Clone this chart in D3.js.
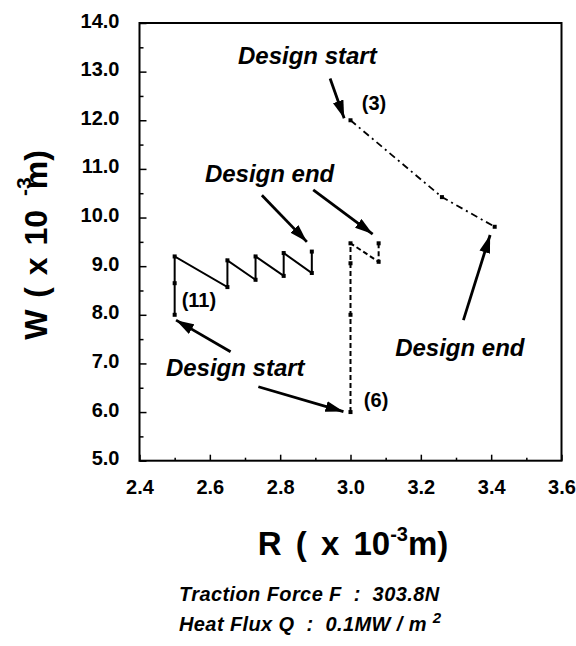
<!DOCTYPE html>
<html>
<head>
<meta charset="utf-8">
<script src="https://cdn.jsdelivr.net/npm/d3@7"></script>
<style>
  body { margin: 0; background: #fff; }
  svg text { font-family: "Liberation Sans", Arial, Helvetica, sans-serif; white-space: pre; }
</style>
</head>
<body>
<script>
let width = 576, height = 646;

// design paths: R (x1e-3 m) and W (x1e-3 m)
const r11 = [2.5, 2.5, 2.5, 2.65, 2.65, 2.73, 2.73, 2.81, 2.81, 2.89, 2.89];
const w11 = [8.0, 8.65, 9.2, 8.57, 9.12, 8.72, 9.2, 8.8, 9.27, 8.86, 9.3];
const r6 = [3.0, 3.0, 3.0, 3.0, 3.08, 3.08];
const w6 = [6.0, 8.0, 9.06, 9.47, 9.09, 9.47];
const r3 = [3.0, 3.26, 3.41];
const w3 = [12.0, 10.42, 9.81];

const xMajor = [2.4, 2.6, 2.8, 3.0, 3.2, 3.4, 3.6];
const xMinor = [2.5, 2.7, 2.9, 3.1, 3.3, 3.5];
const yMajor = [5, 6, 7, 8, 9, 10, 11, 12, 13, 14];
const yMinor = [5.5, 6.5, 7.5, 8.5, 9.5, 10.5, 11.5, 12.5, 13.5];

// annotation labels (data units, text start / baseline)
const notes = [
  { text: "Design start", r: 2.68, w: 13.16, size: 24 },
  { text: "Design end", r: 2.586, w: 10.74, size: 24 },
  { text: "Design start", r: 2.475, w: 6.74, size: 24 },
  { text: "Design end", r: 3.127, w: 7.15, size: 24 },
  { text: "(3)", r: 3.032, w: 12.21, size: 20 },
  { text: "(6)", r: 3.038, w: 6.10, size: 20 },
  { text: "(11)", r: 2.52, w: 8.16, size: 20 }
];
// arrows: from (r0,w0) to tip (r1,w1)
const arrows = [
  [2.942, 12.86, 2.982, 12.04],
  [2.748, 10.46, 2.876, 9.50],
  [2.894, 10.57, 3.063, 9.66],
  [2.659, 7.24, 2.504, 7.89],
  [2.738, 6.52, 2.980, 6.01],
  [3.321, 7.89, 3.397, 9.64]
];

const margin = { left: 139.5, right: 14.5, top: 23, bottom: 185.3 };

const svg = d3.select("body").append("svg")
    .attr("width", width)
    .attr("height", height);

const x = d3.scaleLinear().domain([2.4, 3.6]).range([margin.left, width - margin.right]);
const y = d3.scaleLinear().domain([5, 14]).range([height - margin.bottom, margin.top]);

// frame
svg.append("rect")
    .attr("x", x(2.4)).attr("y", y(14))
    .attr("width", x(3.6) - x(2.4)).attr("height", y(5) - y(14))
    .attr("fill", "none").attr("stroke", "#000").attr("stroke-width", 2);

// axes, ticks pointing inward
svg.append("g")
    .attr("transform", `translate(0,${y(5)})`)
    .call(d3.axisBottom(x).tickValues(xMajor).tickSize(-6).tickPadding(19).tickFormat(d3.format(".1f")));
svg.append("g")
    .attr("transform", `translate(0,${y(5)})`)
    .call(d3.axisBottom(x).tickValues(xMinor).tickSize(-3).tickFormat(""));
const yAxis = svg.append("g")
    .attr("transform", `translate(${x(2.4)},0)`)
    .call(d3.axisLeft(y).tickValues(yMajor).tickSize(-7).tickPadding(20).tickFormat(d3.format(".1f")));
svg.append("g")
    .attr("transform", `translate(${x(2.4)},0)`)
    .call(d3.axisLeft(y).tickValues(yMinor).tickSize(-4).tickFormat(""));

svg.selectAll(".domain").remove();
svg.selectAll(".tick line").attr("stroke", "#000").attr("stroke-width", 1.5);
svg.selectAll(".tick text")
    .attr("fill", "#000")
    .style("font-family", "'Liberation Sans', Arial, sans-serif")
    .style("font-size", "20px")
    .style("font-weight", "bold");
yAxis.selectAll(".tick text").attr("dy", "0.2em");

// series lines
const line = d3.line().x(d => x(d[0])).y(d => y(d[1]));
const series = [
  { pts: d3.zip(r11, w11), dash: null, sw: 2 },
  { pts: d3.zip(r6, w6), dash: "5,3", sw: 2 },
  { pts: d3.zip(r3, w3), dash: "7,4,2,4", sw: 1.8 }
];
series.forEach(s => {
  svg.append("path")
      .attr("d", line(s.pts))
      .attr("fill", "none")
      .attr("stroke", "#000")
      .attr("stroke-width", s.sw)
      .attr("stroke-dasharray", s.dash);
  svg.selectAll(null)
      .data(s.pts)
      .enter().append("rect")
      .attr("x", d => x(d[0]) - 2)
      .attr("y", d => y(d[1]) - 2)
      .attr("width", 4)
      .attr("height", 4)
      .attr("fill", "#000");
});

// arrows
svg.append("defs").append("marker")
    .attr("id", "head")
    .attr("markerUnits", "userSpaceOnUse")
    .attr("viewBox", "0 0 18 11")
    .attr("refX", 18).attr("refY", 5.5)
    .attr("markerWidth", 18).attr("markerHeight", 11)
    .attr("orient", "auto")
  .append("path")
    .attr("d", "M0,0L18,5.5L0,11Z")
    .attr("fill", "#000");

svg.selectAll(null)
    .data(arrows)
    .enter().append("line")
    .attr("x1", d => x(d[0])).attr("y1", d => y(d[1]))
    .attr("x2", d => x(d[2])).attr("y2", d => y(d[3]))
    .attr("stroke", "#000")
    .attr("stroke-width", 2.8)
    .attr("marker-end", "url(#head)");

svg.selectAll(null)
    .data(notes)
    .enter().append("text")
    .attr("x", d => x(d.r))
    .attr("y", d => y(d.w))
    .style("font-size", d => d.size + "px")
    .style("font-weight", "bold")
    .style("font-style", d => d.text.startsWith("(") ? "normal" : "italic")
    .text(d => d.text);

// axis titles
const xt = svg.append("text")
    .attr("x", 353).attr("y", 555)
    .attr("text-anchor", "middle")
    .style("font-size", "33px").style("font-weight", "bold")
    .style("word-spacing", "5px");
xt.append("tspan").text("R ( x 10");
xt.append("tspan").attr("dy", -14).style("font-size", "20px").text("-3");
xt.append("tspan").attr("dy", 14).text("m)");

const yt = svg.append("text")
    .attr("transform", "translate(47,245) rotate(-90)")
    .attr("text-anchor", "middle")
    .style("font-size", "32px").style("font-weight", "bold")
    .style("word-spacing", "3px");
yt.append("tspan").text("W ( x 10");
yt.append("tspan").attr("dy", -16).attr("dx", 14).style("font-size", "21px").text("-3");
yt.append("tspan").attr("dy", 16).attr("dx", -12).text("m)");

// conditions
svg.append("text")
    .attr("x", 179).attr("y", 601)
    .style("font-size", "20px").style("font-weight", "bold").style("font-style", "italic")
    .style("letter-spacing", "0.4px")
    .text("Traction Force F  :  303.8N");
const cap2 = svg.append("text")
    .attr("x", 179).attr("y", 631)
    .style("font-size", "20px").style("font-weight", "bold").style("font-style", "italic")
    .style("letter-spacing", "0.4px");
cap2.append("tspan").text("Heat Flux Q  :  0.1MW / m ");
cap2.append("tspan").attr("dy", -8).style("font-size", "15px").text("2");
</script>
</body>
</html>
